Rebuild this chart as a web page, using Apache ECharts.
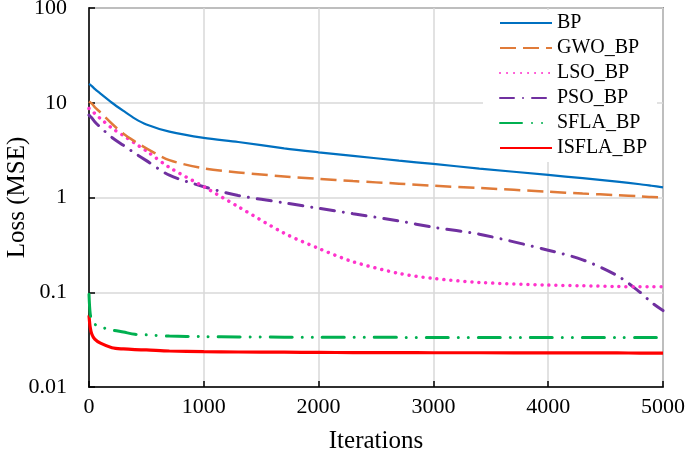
<!DOCTYPE html>
<html>
<head>
<meta charset="utf-8">
<script src="https://cdn.jsdelivr.net/npm/echarts@6/dist/echarts.min.js"></script>
<style>
html,body{margin:0;padding:0;background:#fff;}
#c{width:685px;height:457px;}
</style>
</head>
<body>
<div id="c"></div>
<script>
var iters = [0, 10, 25, 50, 100, 200, 300, 400, 500, 700, 1000, 1300, 1700, 2000, 2300, 2700, 3000, 3400, 4000, 4300, 4600, 4800, 4900, 5000];
var bp    = [15.8, 15.5, 15.0, 14.0, 12.5, 10.0, 8.2, 6.8, 5.9, 4.95, 4.25, 3.85, 3.3, 3.0, 2.75, 2.45, 2.26, 2.02, 1.73, 1.6, 1.47, 1.38, 1.33, 1.28];
var gwo   = [10.3, 10.1, 9.8, 9.0, 7.9, 6.0, 4.7, 3.9, 3.3, 2.48, 2.03, 1.84, 1.67, 1.57, 1.49, 1.40, 1.33, 1.26, 1.15, 1.10, 1.06, 1.03, 1.01, 1.0];
var lso   = [8.7, 8.6, 8.3, 7.7, 6.8, 5.4, 4.5, 3.73, 3.1, 2.08, 1.30, 0.80, 0.42, 0.29, 0.21, 0.158, 0.14, 0.127, 0.119, 0.117, 0.115, 0.114, 0.114, 0.114];
var pso   = [7.4, 7.2, 6.9, 6.3, 5.5, 4.3, 3.55, 2.93, 2.45, 1.72, 1.30, 1.05, 0.88, 0.77, 0.675, 0.565, 0.485, 0.41, 0.278, 0.22, 0.15, 0.1, 0.078, 0.064];
var sfla  = [0.095, 0.06, 0.05, 0.046, 0.043, 0.040, 0.038, 0.036, 0.0355, 0.0345, 0.034, 0.0338, 0.0336, 0.0335, 0.0335, 0.0334, 0.0334, 0.0334, 0.0333, 0.0333, 0.0333, 0.0333, 0.0333, 0.0333];
var isfla = [0.057, 0.043, 0.036, 0.032, 0.029, 0.026, 0.0252, 0.0248, 0.0246, 0.024, 0.0236, 0.0234, 0.0233, 0.0232, 0.0231, 0.0231, 0.023, 0.023, 0.0229, 0.0229, 0.0229, 0.0228, 0.0228, 0.0228];
var names = ['BP', 'GWO_BP', 'LSO_BP', 'PSO_BP', 'SFLA_BP', 'ISFLA_BP'];
var yTicks = ['0.01', '0.1', '1', '10', '100'];
var xTicks = ['0', '1000', '2000', '3000', '4000', '5000'];

function pairs(arr){ return iters.map(function(x,i){ return [x, arr[i]]; }); }
var FONT = 'Liberation Serif';
var styles = [
  {color:'#0070C0', width:2.2, type:'solid', cap:'butt'},
  {color:'#E07B39', width:2.5, type:[16,7], cap:'butt'},
  {color:'#FF33CC', width:3.5, type:[0.01,7], cap:'round'},
  {color:'#7030A0', width:3, type:[14,9,0.01,9], cap:'round'},
  {color:'#00B050', width:3, type:[22,10,0.01,10,0.01,10], cap:'round'},
  {color:'#FF0000', width:3.2, type:'solid', cap:'butt'}
];
var datas = [bp, gwo, lso, pso, sfla, isfla];
var series = datas.map(function(d, i){
  var s = styles[i];
  return {
    name: names[i], type:'line', data: pairs(d), symbol:'none', smooth:0.3,
    lineStyle:{color:s.color, width:s.width, type:s.type, cap:s.cap},
    itemStyle:{color:s.color}, z: 10 - i
  };
});

var chart = echarts.init(document.getElementById('c'));
chart.setOption({
  animation:false,
  backgroundColor:'#fff',
  grid:{left:89, right:22, top:8, bottom:70, containLabel:false, outerBoundsMode:'none',
        show:true, borderColor:'#404040', borderWidth:1.5, backgroundColor:'transparent'},
  legend:{
    left:483, top:10, orient:'vertical', backgroundColor:'#fff',
    padding:[3,10,4,16], itemWidth:52, itemHeight:14, itemGap:5,
    itemStyle:{opacity:0, borderWidth:0},
    textStyle:{fontFamily:FONT, fontSize:20, color:'#000'},
    data:names
  },
  xAxis:{
    type:'value', min:0, max:5000, interval:1000,
    name:'Iterations', nameLocation:'middle', nameGap:42, nameMoveOverlap:false,
    nameTextStyle:{fontFamily:FONT, fontSize:25, color:'#000'},
    axisLine:{show:true, lineStyle:{color:'#000', width:1.5}},
    axisTick:{show:true, inside:true, length:6, lineStyle:{color:'#000', width:1.5}},
    axisLabel:{fontFamily:FONT, fontSize:22, color:'#000', margin:9,
      formatter:function(v){ return xTicks[Math.round(v/1000)]; }},
    splitLine:{show:true, lineStyle:{color:'#d9d9d9', width:1.5}}
  },
  yAxis:{
    type:'log', logBase:10, min:0.01, max:100,
    name:'Loss (MSE)', nameLocation:'middle', nameGap:59, nameMoveOverlap:false,
    nameTextStyle:{fontFamily:FONT, fontSize:25, color:'#000'},
    axisLine:{show:true, lineStyle:{color:'#000', width:1.5}},
    axisTick:{show:true, inside:true, length:6, lineStyle:{color:'#000', width:1.5}},
    axisLabel:{fontFamily:FONT, fontSize:22, color:'#000', margin:22,
      formatter:function(v){ var k = Math.round(Math.log10(v)) + 2; return yTicks[k]; }},
    splitLine:{show:true, lineStyle:{color:'#d9d9d9', width:1.5}},
    minorTick:{show:false}
  },
  series: series
});
</script>
</body>
</html>
